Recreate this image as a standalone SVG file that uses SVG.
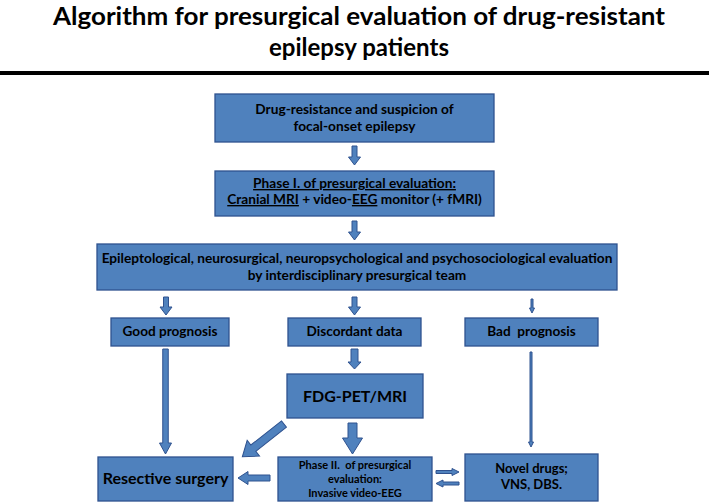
<svg xmlns="http://www.w3.org/2000/svg" width="709" height="504" viewBox="0 0 709 504">
<style>
.box{fill:#4F81BD;stroke:#2F528F;stroke-width:1.3}
.arr{fill:#4F81BD;stroke:#2F528F;stroke-width:1}
text{font-family:Lato,'Liberation Sans',sans-serif;font-weight:bold;fill:#000;text-anchor:middle}
.t13{font-size:13.7px}
.t12{font-size:13.6px}
.t17{font-size:16px}
.t10{font-size:11px}
.u{text-decoration:underline}
</style>
<rect width="709" height="504" fill="#fff"/>
<g id="title">
<text x="359" y="25" font-size="24" textLength="612" lengthAdjust="spacingAndGlyphs">Algorithm for presurgical evaluation of drug-resistant</text>
<text x="359" y="56" font-size="24">epilepsy patients</text>
<rect x="0" y="71" width="709" height="4" fill="#000"/>
</g>
<g id="n1"><rect class="box" x="215" y="94" width="279" height="48"/>
<text class="t13" x="354.5" y="114">Drug-resistance and suspicion of</text>
<text class="t13" x="354.5" y="131">focal-onset epilepsy</text></g>
<g id="n2"><rect class="box" x="215" y="171" width="279" height="45"/>
<text class="t13" x="354.5" y="188"><tspan class="u">Phase I. of presurgical evaluation:</tspan></text>
<text class="t13" x="354.5" y="204"><tspan class="u">Cranial MRI</tspan> + video-<tspan class="u">EEG</tspan> monitor (+ fMRI)</text></g>
<g id="n3"><rect class="box" x="97" y="244" width="520" height="46"/>
<text class="t13" x="357" y="263">Epileptological, neurosurgical, neuropsychological and psychosociological evaluation</text>
<text class="t13" x="357" y="280">by interdisciplinary presurgical team</text></g>
<g id="n4"><rect class="box" x="111" y="318" width="118" height="28"/>
<text class="t12" x="170" y="336">Good prognosis</text></g>
<g id="n5"><rect class="box" x="288" y="318" width="133" height="28"/>
<text class="t12" x="354.5" y="336">Discordant data</text></g>
<g id="n6"><rect class="box" x="465" y="318" width="133" height="28"/>
<text class="t12" x="531.5" y="336" xml:space="preserve">Bad  prognosis</text></g>
<g id="n7"><rect class="box" x="287" y="374" width="136" height="44"/>
<text class="t17" x="355" y="402">FDG-PET/MRI</text></g>
<g id="n8"><rect class="box" x="98" y="457" width="135" height="44"/>
<text class="t17" x="165.5" y="484">Resective surgery</text></g>
<g id="n9"><rect class="box" x="278" y="457" width="154" height="44"/>
<text class="t10" x="355" y="469" xml:space="preserve">Phase II.  of presurgical</text>
<text class="t10" x="355" y="483">evaluation:</text>
<text class="t10" x="355" y="497">Invasive video-EEG</text></g>
<g id="n10"><rect class="box" x="465" y="454" width="133" height="47"/>
<text x="531.5" y="473" font-size="13">Novel drugs;</text>
<text x="531.5" y="489" font-size="13">VNS, DBS.</text></g>
<g id="connectors">
<polygon class="arr" points="352,146 357,146 357,157 360.5,157 354.5,165 348.5,157 352,157"/>
<polygon class="arr" points="352,221 357,221 357,232 360.5,232 354.5,240 348.5,232 352,232"/>
<polygon class="arr" points="163.5,297 168.5,297 168.5,307 172,307 166,315 160,307 163.5,307"/>
<polygon class="arr" points="352,297 357,297 357,307 360.5,307 354.5,315 348.5,307 352,307"/>
<polygon class="arr" points="531,299 533,299 533,308 534.5,308 532,313 529.5,308 531,308"/>
<polygon class="arr" points="162.75,349 168.25,349 168.25,443 171.5,443 165.5,454 159.5,443 162.75,443"/>
<polygon class="arr" points="351,349 358,349 358,362 361,362 354.5,369 348,362 351,362"/>
<polygon class="arr" points="348,423 357,423 357,438 362.5,438 352.5,454 342.5,438 348,438"/>
<polygon class="arr" points="530,352 532,352 532,442 533.5,442 531,447 528.5,442 530,442"/>
<polygon class="arr" transform="translate(284,424) rotate(141.8)" points="0,-4 39,-4 39,-10 53,0 39,10 39,4 0,4"/>
<polygon class="arr" points="270,475 248,475 248,471.5 238,478 248,484.5 248,481 270,481"/>
<polygon class="arr" points="436,470.5 452,470.5 452,468.5 459,472 452,475.5 452,473.5 436,473.5"/>
<polygon class="arr" points="459,482 443,482 443,480 436,483.5 443,487 443,485 459,485"/>
</g>
</svg>
